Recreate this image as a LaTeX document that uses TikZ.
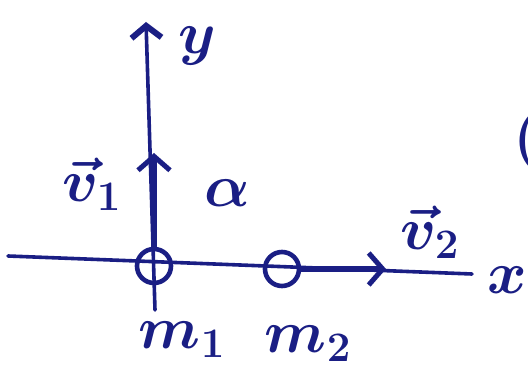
\RequirePackage{fix-cm}
\documentclass[tikz,border=0pt]{standalone}
\usepackage{amsmath}
\usepackage{tikz}
\usetikzlibrary{positioning,arrows.meta}
\definecolor{ink}{RGB}{26,30,132}

\begin{document}
\begin{tikzpicture}[
    x=1pt, y=-1pt,
    axis/.style     = {draw=ink, line width=3.6pt, line cap=round},
    velarrow/.style = {draw=ink, line width=6pt, line cap=round,
                       -{Straight Barb[length=14pt, width=32pt, line width=5pt]}},
    mass/.style     = {circle, draw=ink, line width=4.6pt, minimum size=34pt,
                       inner sep=0pt},
    lbl/.style      = {text=ink, inner sep=0pt,
                       font=\fontsize{60}{64}\selectfont\boldmath},
]
\useasboundingbox (0,0) rectangle (528,371);

% axes
\coordinate (ybot)   at (155,310);
\coordinate (ytop)   at (146,22);
\coordinate (xleft)  at (8,256);
\coordinate (xright) at (472,274);

\draw[axis] (xleft) -- (xright);
\draw[axis, -{Straight Barb[length=12pt, width=30pt, line width=6pt]}] (ybot) -- (ytop);

% masses
\node[mass] (m1) at (154,266) {};
\node[mass] (m2) at (282,269) {};

% velocities
\coordinate (v1tip) at (154,153);
\coordinate (v2tip) at (386,269);
\draw[velarrow] (m1.north) -- (v1tip);
\draw[velarrow] (m2.east)  -- (v2tip);

% labels
\node[lbl] (ylbl)  at (197,46)  {$y$};
\node[lbl] (xlbl)  at (507,280) {$x$};
\node[lbl] (v1lbl) at (92,184)  {$\vec{v}_1$};
\node[lbl] (v2lbl) at (430,232) {$\vec{v}_2$};
\node[lbl] (alpha) at (227,193) {$\alpha$};
\node[lbl] (m1lbl) at (182,340) {$m_1$};
\node[lbl] (m2lbl) at (308,344) {$m_2$};
\node[lbl] (paren) at (527,142) {$($};
\end{tikzpicture}
\end{document}
